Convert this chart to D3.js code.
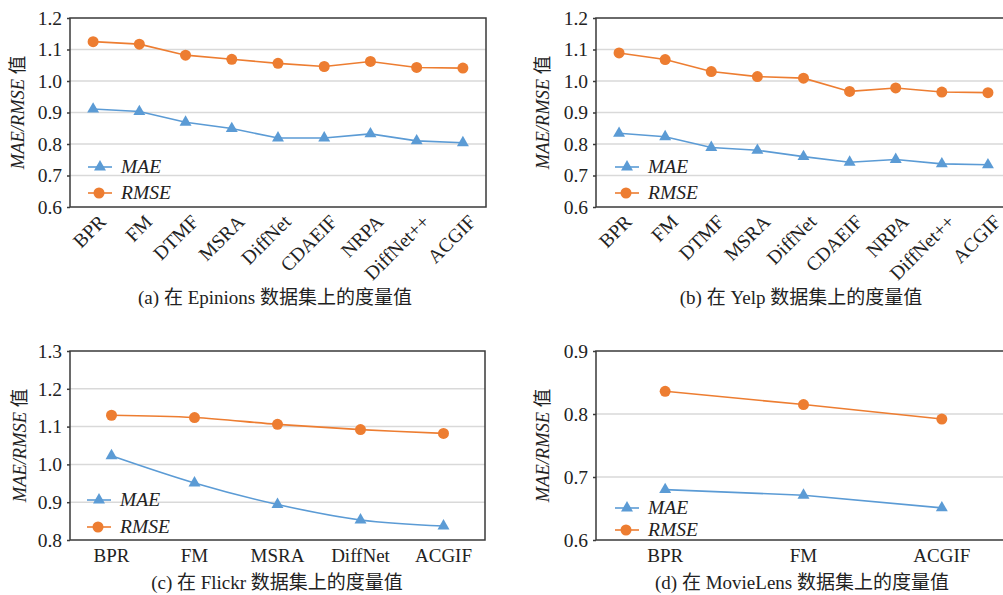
<!DOCTYPE html>
<html>
<head>
<meta charset="utf-8">
<script src="https://cdn.jsdelivr.net/npm/d3@7/dist/d3.min.js"></script>
<style>
  body { margin: 0; background: #fff; }
  svg text { font-family: "Liberation Serif", "Noto Sans CJK SC", serif; fill: #222; }
</style>
</head>
<body>
<div id="chart"></div>
<script>
// ---- data ----
var methodsLong = ["BPR", "FM", "DTMF", "MSRA", "DiffNet", "CDAEIF", "NRPA", "DiffNet++", "ACGIF"];
var methodsFlickr = ["BPR", "FM", "MSRA", "DiffNet", "ACGIF"];
var methodsMovie = ["BPR", "FM", "ACGIF"];

var epinionsMAE  = [0.911, 0.903, 0.869, 0.849, 0.819, 0.819, 0.832, 0.810, 0.804];
var epinionsRMSE = [1.125, 1.117, 1.082, 1.069, 1.056, 1.046, 1.062, 1.043, 1.041];
var yelpMAE      = [0.834, 0.823, 0.789, 0.780, 0.760, 0.742, 0.751, 0.737, 0.734];
var yelpRMSE     = [1.089, 1.068, 1.030, 1.014, 1.009, 0.967, 0.978, 0.965, 0.963];
var flickrMAE    = [1.023, 0.951, 0.894, 0.853, 0.837];
var flickrRMSE   = [1.130, 1.124, 1.106, 1.092, 1.082];
var movieMAE     = [0.680, 0.671, 0.651];
var movieRMSE    = [0.836, 0.815, 0.792];

var yTicksA = [0.6, 0.7, 0.8, 0.9, 1.0, 1.1, 1.2];
var yTicksC = [0.8, 0.9, 1.0, 1.1, 1.2, 1.3];
var yTicksD = [0.6, 0.7, 0.8, 0.9];

var captions = ["(a) 在 Epinions 数据集上的度量值", "(b) 在 Yelp 数据集上的度量值",
                "(c) 在 Flickr 数据集上的度量值", "(d) 在 MovieLens 数据集上的度量值"];

var BLUE = "#5b9bd5", ORANGE = "#ed7d31";

var svg = d3.select("#chart").append("svg").attr("width", 1003).attr("height", 595);

var panels = [
  {left: 70, top: 18, w: 416, h: 189, cats: methodsLong, mae: epinionsMAE, rmse: epinionsRMSE,
   ticks: yTicksA, rotate: true, smooth: false, cap: captions[0], capX: 275, capY: 304, titleX: 18,
   legX: 88, legY: [167, 193]},
  {left: 596, top: 18, w: 415, h: 189, cats: methodsLong, mae: yelpMAE, rmse: yelpRMSE,
   ticks: yTicksA, rotate: true, smooth: false, cap: captions[1], capX: 801, capY: 304, titleX: 543,
   legX: 615, legY: [167, 193]},
  {left: 70, top: 351, w: 415, h: 189, cats: methodsFlickr, mae: flickrMAE, rmse: flickrRMSE,
   ticks: yTicksC, rotate: false, smooth: true, cap: captions[2], capX: 277, capY: 589, titleX: 20,
   legX: 87, legY: [500, 527]},
  {left: 596, top: 351, w: 415, h: 189, cats: methodsMovie, mae: movieMAE, rmse: movieRMSE,
   ticks: yTicksD, rotate: false, smooth: false, cap: captions[3], capX: 802, capY: 589, titleX: 543,
   legX: 615, legY: [508, 530]}
];

var triangle = d3.symbol().type(d3.symbolTriangle).size(62);

function drawPanel(p) {
  var g = svg.append("g");
  var x = d3.scalePoint().domain(p.cats).range([p.left, p.left + p.w]).padding(0.5);
  var y = d3.scaleLinear().domain(d3.extent(p.ticks)).range([p.top + p.h, p.top]);

  // grid lines
  g.selectAll(".grid").data(p.ticks.slice(1, -1)).enter().append("line")
    .attr("x1", p.left).attr("x2", p.left + p.w)
    .attr("y1", function (d) { return y(d); }).attr("y2", function (d) { return y(d); })
    .attr("stroke", "#d9d9d9").attr("stroke-width", 1.5);

  // frame
  g.append("rect").attr("x", p.left).attr("y", p.top).attr("width", p.w).attr("height", p.h)
    .attr("fill", "none").attr("stroke", "#3a3a3a").attr("stroke-width", 1.5);

  // y ticks + labels
  var yAxis = d3.axisLeft(y).tickValues(p.ticks).tickSize(3).tickPadding(5)
    .tickFormat(d3.format(".1f"));
  var ya = g.append("g").attr("transform", "translate(" + p.left + ",0)").call(yAxis);
  ya.select(".domain").remove();
  ya.selectAll("line").attr("stroke", "#3a3a3a").attr("stroke-width", 1.5);
  ya.selectAll("text").attr("font-size", 19.5).attr("fill", "#222")
    .attr("font-family", "Liberation Serif");

  // x labels
  var bottom = p.top + p.h;
  if (p.rotate) {
    g.selectAll(".xl").data(p.cats).enter().append("text")
      .attr("transform", function (d) {
        return "translate(" + (x(d) + 14) + "," + (bottom + 16) + ") rotate(-45)";
      })
      .attr("text-anchor", "end").attr("font-size", 19.5).text(function (d) { return d; });
  } else {
    g.selectAll(".xl").data(p.cats).enter().append("text")
      .attr("x", function (d) { return x(d); }).attr("y", bottom + 22)
      .attr("text-anchor", "middle").attr("font-size", 19).text(function (d) { return d; });
  }

  // y title
  var t = g.append("text")
    .attr("transform", "translate(" + (p.titleX + 6) + "," + (p.top + p.h / 2) + ") rotate(-90)")
    .attr("text-anchor", "middle").attr("font-size", 18.5);
  t.append("tspan").attr("font-style", "italic").text("MAE/RMSE");
  t.append("tspan").text(" 值");

  // series
  var series = [
    {name: "MAE", vals: p.mae, color: BLUE, shape: "tri"},
    {name: "RMSE", vals: p.rmse, color: ORANGE, shape: "circ"}
  ];
  var line = d3.line()
    .x(function (d, i) { return x(p.cats[i]); })
    .y(function (d) { return y(d); })
    .curve(p.smooth ? d3.curveCatmullRom.alpha(0.5) : d3.curveLinear);

  series.forEach(function (s, si) {
    g.append("path").datum(s.vals).attr("d", line)
      .attr("fill", "none").attr("stroke", s.color).attr("stroke-width", 1.6);
    var pts = g.selectAll(".pt" + si).data(s.vals).enter();
    if (s.shape === "circ") {
      pts.append("circle")
        .attr("cx", function (d, i) { return x(p.cats[i]); })
        .attr("cy", function (d) { return y(d); })
        .attr("r", 5.5).attr("fill", s.color);
    } else {
      pts.append("path").attr("d", triangle)
        .attr("transform", function (d, i) { return "translate(" + x(p.cats[i]) + "," + y(d) + ")"; })
        .attr("fill", s.color);
    }

    // legend entry
    var ly = p.legY[si];
    g.append("line").attr("x1", p.legX).attr("x2", p.legX + 24).attr("y1", ly).attr("y2", ly)
      .attr("stroke", s.color).attr("stroke-width", 1.6);
    if (s.shape === "circ") {
      g.append("circle").attr("cx", p.legX + 11).attr("cy", ly).attr("r", 5.5).attr("fill", s.color);
    } else {
      g.append("path").attr("d", triangle)
        .attr("transform", "translate(" + (p.legX + 12) + "," + ly + ")").attr("fill", s.color);
    }
    g.append("text").attr("x", p.legX + 33).attr("y", ly + 6)
      .attr("font-size", 19.5).attr("font-style", "italic").text(s.name);
  });

  // caption
  g.append("text").attr("x", p.capX).attr("y", p.capY).attr("text-anchor", "middle")
    .attr("font-size", 19).text(p.cap);
}

panels.forEach(drawPanel);
</script>
</body>
</html>
